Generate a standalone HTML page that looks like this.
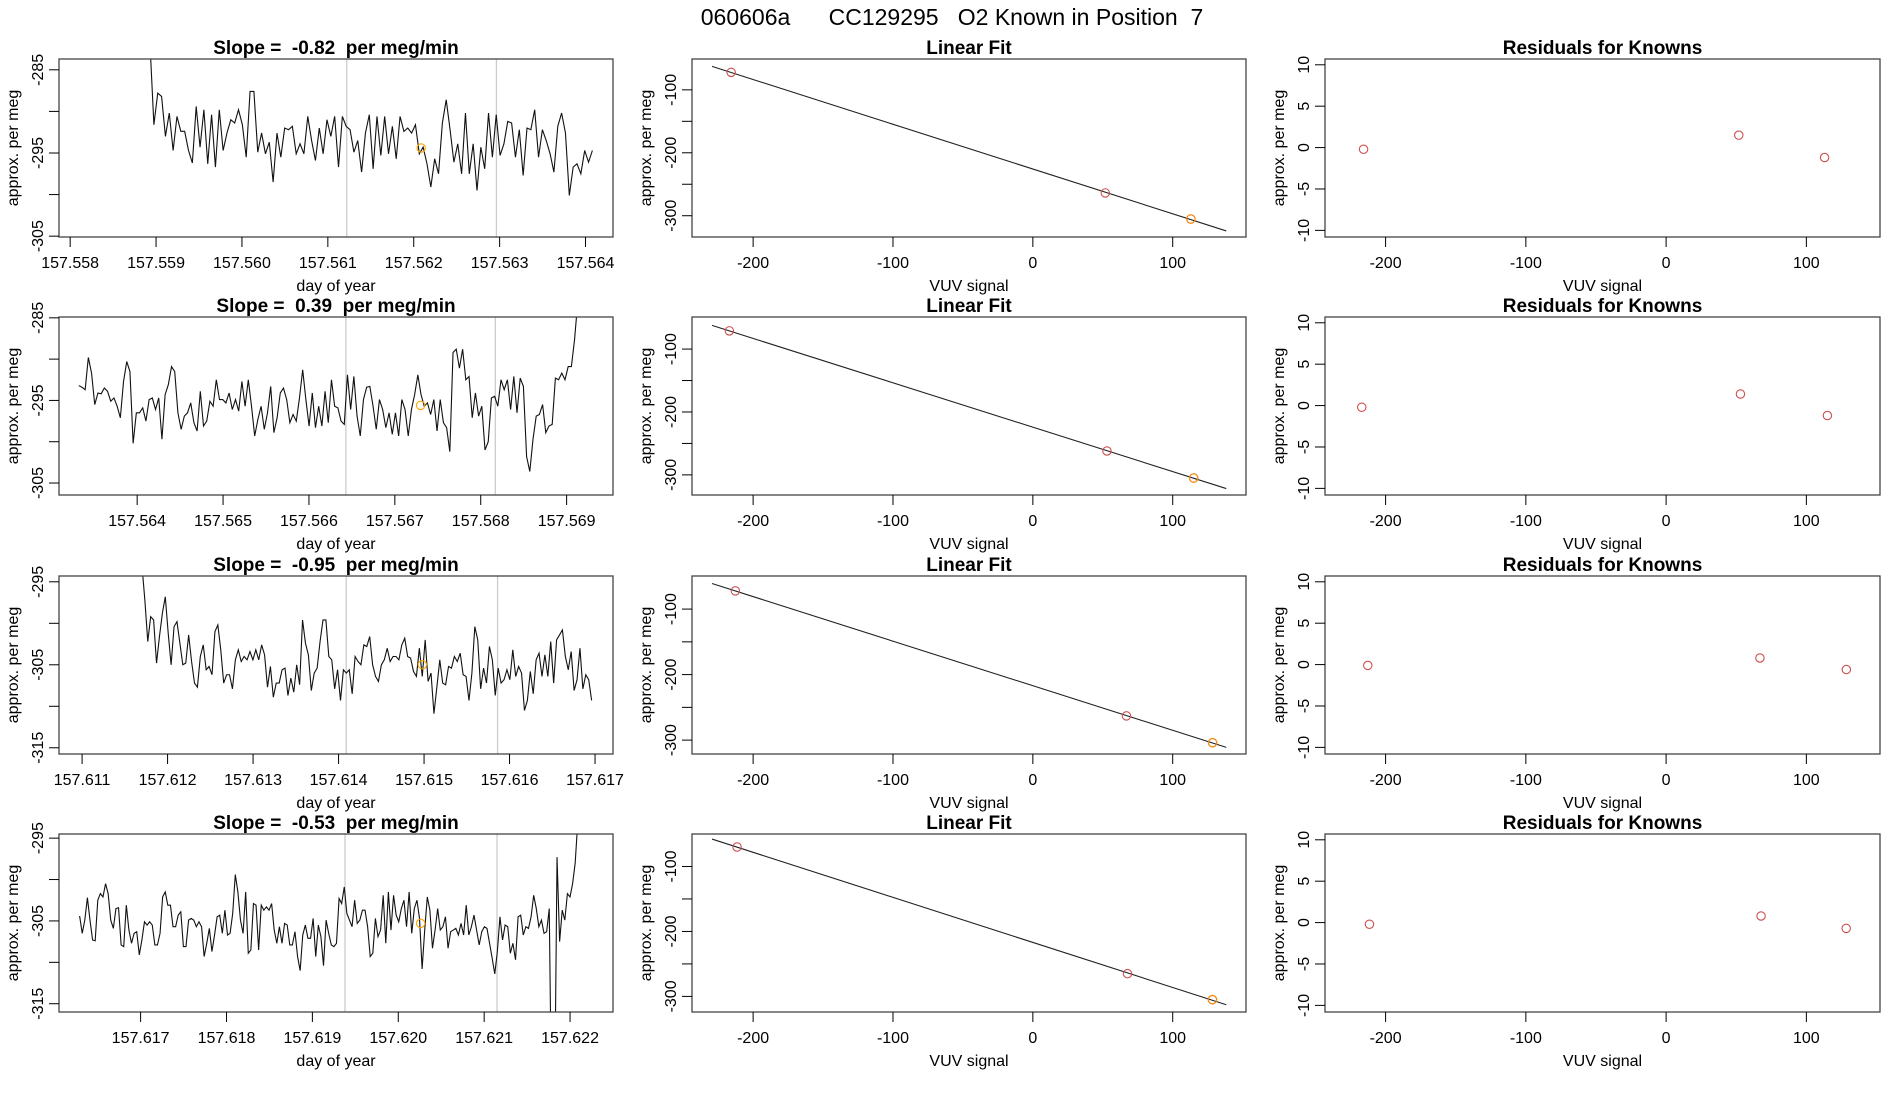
<!DOCTYPE html>
<html><head><meta charset="utf-8"><title>060606a CC129295</title>
<style>
html,body{margin:0;padding:0;background:#fff;}
svg{display:block;font-family:"Liberation Sans",Arial,sans-serif;}
text{white-space:pre;}
</style></head>
<body>
<svg id="chart" width="1900" height="1100" viewBox="0 0 1900 1100" xmlns="http://www.w3.org/2000/svg" xml:space="preserve">
<rect x="0" y="0" width="1900" height="1100" fill="#fff"/>
<text x="952" y="25" font-size="23" text-anchor="middle" xml:space="preserve">060606a      CC129295   O2 Known in Position  7</text>
</svg>
<script>
// ---------- data ----------
const ts1Values = [-282,-291.6,-287.8,-288.2,-293.0,-290.2,-294.7,-290.6,-292.4,-292.4,-294.7,-296.2,-289.4,-294.3,-289.8,-296.3,-290.4,-296.7,-289.8,-294.7,-292.6,-291.0,-291.4,-289.8,-291.6,-295.5,-287.6,-287.6,-294.9,-292.6,-295.1,-293.7,-298.5,-292.6,-295.5,-292.0,-292.2,-291.8,-295.1,-293.9,-295.1,-290.6,-293.5,-295.9,-292.0,-295.1,-291.0,-293.0,-290.6,-296.7,-290.6,-291.8,-292.2,-294.9,-293.5,-297.3,-292.6,-290.4,-296.9,-290.6,-295.3,-290.6,-295.1,-291.8,-295.7,-290.6,-292.4,-292.0,-292.6,-291.6,-295.1,-294.3,-296.3,-299.1,-295.7,-297.5,-291.4,-288.6,-292.2,-296.1,-293.9,-297.5,-290.2,-297.5,-293.9,-299.5,-294.3,-296.9,-290.2,-295.5,-290.4,-295.3,-293.9,-291.2,-291.4,-295.5,-292.2,-297.7,-292.0,-292.2,-289.8,-295.5,-292.2,-293.5,-295.1,-297.3,-291.8,-290.2,-292.6,-300.1,-296.7,-296.3,-297.5,-294.7,-296.1,-294.7];
const ts2Values = [-293.2,-293.4,-293.7,-289.8,-291.7,-295.5,-294.1,-294.2,-293.5,-293.9,-295.1,-294.7,-295.7,-297.1,-292.7,-290.3,-291.5,-300.2,-296.5,-296.5,-295.9,-297.5,-294.9,-294.7,-296.1,-294.7,-299.7,-294.3,-293.1,-290.9,-291.5,-296.5,-298.5,-296.9,-296.5,-295.3,-297.7,-298.7,-293.9,-298.1,-297.5,-295.1,-295.7,-292.5,-294.9,-294.9,-295.3,-294.1,-296.1,-294.9,-296.3,-292.7,-295.7,-292.5,-295.7,-299.3,-297.3,-295.7,-298.5,-296.5,-293.3,-298.9,-297.1,-294.1,-293.5,-294.9,-297.7,-296.7,-297.5,-294.7,-291.3,-294.9,-298.1,-294.1,-298.3,-295.7,-298.1,-293.9,-297.7,-292.5,-295.7,-295.9,-297.5,-297.9,-291.9,-296.1,-292.1,-296.9,-299.3,-294.9,-293.4,-293.3,-295.7,-298.5,-294.9,-296.1,-298.3,-296.5,-299.1,-296.5,-299.3,-294.9,-296.1,-299.3,-296.1,-294.3,-291.9,-294.3,-295.7,-295.3,-296.7,-294.9,-298.7,-294.9,-297.7,-298.3,-301.2,-289.2,-288.8,-291.1,-288.8,-292.5,-292.1,-297.1,-294.1,-296.9,-295.7,-301.0,-300.0,-294.7,-294.5,-295.7,-292.5,-293.7,-292.5,-296.1,-292.1,-296.5,-292.3,-293.3,-301.8,-303.6,-299.7,-296.9,-296.7,-295.5,-298.9,-298.1,-297.9,-292.3,-292.5,-291.7,-292.5,-290.9,-290.9,-287.6,-283];
const ts3Values = [-293,-297.2,-302.2,-299.2,-299.6,-304.8,-301.6,-298.8,-296.8,-301.2,-305.0,-300.4,-299.8,-302.4,-305.0,-304.8,-301.4,-304.6,-307.2,-307.7,-304.0,-302.6,-305.6,-305.2,-306.2,-301.0,-300.2,-303.2,-307.2,-306.2,-306.2,-307.9,-304.4,-303.2,-304.6,-304.0,-304.4,-303.4,-304.4,-303.2,-304.4,-302.6,-303.8,-307.7,-305.2,-308.9,-307.2,-307.2,-305.6,-305.4,-308.7,-306.6,-308.3,-305.0,-307.4,-299.6,-302.4,-303.8,-308.1,-306.0,-305.4,-302.2,-299.6,-299.6,-304.0,-304.4,-307.9,-305.6,-309.3,-305.6,-306.0,-305.6,-308.5,-304.0,-304.6,-305.0,-302.6,-302.8,-301.6,-305.0,-306.4,-307.0,-305.0,-304.4,-303.0,-304.6,-304.0,-304.0,-304.4,-302.6,-301.8,-304.0,-304.2,-305.8,-306.4,-303.0,-306.4,-302.0,-307.0,-306.0,-310.9,-307.7,-304.4,-307.2,-307.4,-305.2,-305.4,-304.0,-304.6,-303.6,-306.2,-306.4,-309.3,-306.0,-300.4,-302.0,-307.9,-305.4,-307.2,-302.8,-304.4,-308.7,-305.4,-307.2,-306.8,-305.6,-306.8,-303.2,-306.4,-305.2,-306.0,-310.5,-309.3,-305.8,-308.5,-304.4,-303.6,-306.4,-303.8,-306.4,-302.2,-307.2,-302.0,-301.4,-300.8,-304.0,-305.6,-303.4,-308.1,-306.8,-303.0,-307.9,-306.2,-306.8,-309.3];
const ts4Values = [-304.4,-306.5,-304.9,-302.2,-304.9,-307.3,-307.4,-302.5,-301.7,-302.1,-300.5,-301.7,-304.9,-305.9,-303.5,-303.4,-307.9,-308.1,-303.1,-306.1,-307.7,-306.5,-306.3,-309.1,-307.3,-305.1,-305.5,-305.1,-305.5,-307.9,-307.9,-306.5,-302.1,-301.5,-303.1,-303.1,-305.7,-305.7,-304.3,-303.9,-308.1,-308.1,-304.9,-304.7,-304.9,-305.7,-305.1,-305.7,-309.3,-307.7,-305.9,-308.7,-306.7,-304.5,-304.3,-306.5,-303.7,-306.7,-306.5,-304.1,-299.4,-301.5,-304.9,-306.5,-301.5,-308.9,-308.5,-302.9,-303.1,-308.5,-303.1,-303.7,-303.3,-303.7,-302.9,-306.1,-307.7,-305.7,-307.7,-305.3,-305.5,-307.9,-307.9,-306.3,-309.3,-311.0,-306.7,-305.5,-307.1,-307.1,-304.7,-309.3,-305.5,-306.9,-310.4,-304.9,-306.5,-307.9,-308.1,-307.7,-302.3,-302.9,-300.9,-304.1,-304.9,-305.7,-302.5,-305.3,-304.9,-303.7,-303.7,-305.7,-309.3,-308.9,-304.7,-306.9,-306.1,-301.9,-307.7,-301.5,-306.1,-301.9,-304.3,-305.1,-303.5,-302.5,-305.7,-301.5,-306.5,-303.5,-302.5,-304.7,-310.8,-306.1,-302.1,-303.7,-308.3,-306.1,-303.5,-306.1,-305.7,-304.5,-308.3,-306.3,-306.1,-305.9,-306.7,-305.3,-306.7,-303.1,-306.7,-305.7,-304.3,-306.1,-307.9,-306.3,-305.7,-305.9,-307.7,-309.5,-311.4,-308.7,-304.5,-307.3,-305.5,-305.7,-308.9,-307.7,-309.7,-304.5,-304.3,-306.7,-305.7,-305.9,-304.5,-301.9,-303.5,-305.7,-304.9,-306.5,-306.3,-303.5,-330,-330,-297.3,-307.5,-303.7,-304.9,-301.7,-302.1,-300.5,-298.0,-293];
const tsTimeSpans = [[157.55893,157.56408],[157.56332,157.56913],[157.6117,157.61696],[157.61629,157.62209]];
const tsXDomains = [[157.55787,157.56432],[157.56309,157.56954],[157.61073,157.61721],[157.61605,157.6225]];
const tsYDomains = [[-305.1,-283.7],[-306.45,-284.9],[-315.75,-294.3],[-316,-294.5]];
const tsXTicks1 = [157.558,157.559,157.560,157.561,157.562,157.563,157.564];
const tsXTicks2 = [157.564,157.565,157.566,157.567,157.568,157.569];
const tsXTicks3 = [157.611,157.612,157.613,157.614,157.615,157.616,157.617];
const tsXTicks4 = [157.617,157.618,157.619,157.620,157.621,157.622];
const tsYTicksA = [-285,-290,-295,-300,-305];
const tsYLabelsA = [-285,-295,-305];
const tsYTicksB = [-295,-300,-305,-310,-315];
const tsYLabelsB = [-295,-305,-315];
const knownTimes = [157.562087,157.5673,157.61498,157.62026];
const knownValues = [-294.4,-295.6,-305.0,-305.3];
const greyLines = [[157.56122,157.562963],[157.56643,157.56817],[157.61409,157.61586],[157.61938,157.62115]];
const slopeTexts = ["-0.82","0.39","-0.95","-0.53"];

const fitSignal1 = [-215.7,51.8,113];
const fitValue1 = [-72.2,-263.8,-305.2];
const fitSignal2 = [-217,53,115];
const fitValue2 = [-71,-262,-305];
const fitSignal3 = [-212.7,66.9,128.5];
const fitValue3 = [-72.2,-263,-304];
const fitSignal4 = [-211.5,67.7,128.4];
const fitValue4 = [-70,-265,-305];
const fitYDomains = [[-333.8,-51],[-332,-49],[-321.2,-49.5],[-324,-50]];
const fitXDomain = [-243.7,152.4];
const fitLineX = [-229.4,138.3];
const fitXTicks = [-200,-100,0,100];
const fitYTicks = [-100,-150,-200,-250,-300];
const fitYLabels = [-100,-200,-300];

const resid1 = [-0.2,1.5,-1.2];
const resid2 = [-0.2,1.4,-1.2];
const resid3 = [-0.1,0.8,-0.6];
const resid4 = [-0.2,0.8,-0.7];
const residXDomain = [-243.2,152.5];
const residYDomain = [-10.8,10.7];
const residYTicks = [-10,-5,0,5,10];

// ---------- layout ----------
const NS = "http://www.w3.org/2000/svg";
const svg = document.getElementById('chart');
const COLX = [[59,613],[692,1246],[1325,1880]];
const ROWY = [59,317,576,834];
const H = 178;
function mk(tag, parent){ const e = document.createElementNS(NS, tag); parent.appendChild(e); return e; }
function lin(d0,d1,r0,r1){ return v => r0 + (v-d0)/(d1-d0)*(r1-r0); }

function axes(g, x0, x1, y0, y1, sx, sy, xt, xl, yt, yl, xtitle){
  const box = mk('rect', g);
  
  
  box.setAttribute('x',x0); box.setAttribute('y',y0); box.setAttribute('width',x1-x0); box.setAttribute('height',y1-y0);
  box.setAttribute('fill','none'); box.setAttribute('stroke','#444'); box.setAttribute('stroke-width','1.3');
  const xa = mk('g', g);
  
  
  const ya = mk('g', g);
  
  
  xt.forEach(v => {
    const x = sx(v);
    const t = mk('line', xa);
    
    
    t.setAttribute('x1',x); t.setAttribute('x2',x); t.setAttribute('y1',y1); t.setAttribute('y2',y1+10); t.setAttribute('stroke','#000');
  });
  xl.forEach(s => {
    const x = sx(parseFloat(s));
    const t = mk('text', xa);
    
    
    t.setAttribute('x',x); t.setAttribute('y',y1+31); t.setAttribute('font-size','16'); t.setAttribute('text-anchor','middle');
    t.textContent = s;
  });
  yt.forEach(v => {
    const y = sy(v);
    const t = mk('line', ya);
    
    
    t.setAttribute('x1',x0-10); t.setAttribute('x2',x0); t.setAttribute('y1',y); t.setAttribute('y2',y); t.setAttribute('stroke','#000');
  });
  yl.forEach(v => {
    const y = sy(v);
    const t = mk('text', ya);
    
    
    t.setAttribute('transform','translate('+(x0-16)+','+y+') rotate(-90)');
    t.setAttribute('font-size','16'); t.setAttribute('text-anchor','middle');
    t.textContent = String(v);
  });
  const yT = mk('text', g);
  
  
  yT.setAttribute('transform','translate('+(x0-41)+','+((y0+y1)/2)+') rotate(-90)');
  yT.setAttribute('font-size','16'); yT.setAttribute('text-anchor','middle');
  yT.textContent = 'approx. per meg';
  const xT = mk('text', g);
  
  
  xT.setAttribute('x',(x0+x1)/2); xT.setAttribute('y',y1+54); xT.setAttribute('font-size','16'); xT.setAttribute('text-anchor','middle');
  xT.textContent = xtitle;
}
function title(g, x0, x1, y0, s){
  const t = mk('text', g);
  
  
  t.setAttribute('x',(x0+x1)/2); t.setAttribute('y',y0-5); t.setAttribute('font-size','19'); t.setAttribute('font-weight','bold'); t.setAttribute('text-anchor','middle');
  t.setAttribute('xml:space','preserve');
  t.textContent = s;
}
function clip(id, x0, x1, y0, y1){
  const cp = mk('clipPath', svg);
  cp.setAttribute('id', id);
  const r = mk('rect', cp);
  r.setAttribute('x',x0); r.setAttribute('y',y0); r.setAttribute('width',x1-x0); r.setAttribute('height',y1-y0);
}
function circ(g, x, y, color){
  const c = mk('circle', g);
  
  
  c.setAttribute('cx',x); c.setAttribute('cy',y); c.setAttribute('r','4.2');
  c.setAttribute('fill','none'); c.setAttribute('stroke',color); c.setAttribute('stroke-width','1.1');
  return c;
}

const tsSeries = [ts1Values, ts2Values, ts3Values, ts4Values];
const tsXTicks = [tsXTicks1, tsXTicks2, tsXTicks3, tsXTicks4];
const fitSignals = [fitSignal1, fitSignal2, fitSignal3, fitSignal4];
const fitValues = [fitValue1, fitValue2, fitValue3, fitValue4];
const resids = [resid1, resid2, resid3, resid4];

for (let r = 0; r < 4; r++){
  const y0 = ROWY[r], y1 = y0 + H;
  {
    const [x0,x1] = COLX[0];
    const g = mk('g', svg);
    
    
    const sx = lin(tsXDomains[r][0], tsXDomains[r][1], x0, x1);
    const sy = lin(tsYDomains[r][0], tsYDomains[r][1], y1, y0);
    const cid = 'clipts'+r;
    clip(cid, x0, x1, y0, y1);
    greyLines[r].forEach(t => {
      const l = mk('line', g);
      
      
      l.setAttribute('x1',sx(t)); l.setAttribute('x2',sx(t)); l.setAttribute('y1',y0); l.setAttribute('y2',y1);
      l.setAttribute('stroke','#cccccc'); l.setAttribute('stroke-width','1.3');
    });
    const vals = tsSeries[r], n = vals.length, [t0,t1] = tsTimeSpans[r];
    let d = '';
    vals.forEach((v,i) => { const t = t0 + i*(t1-t0)/(n-1); d += (i?'L':'M') + sx(t).toFixed(2) + ',' + sy(v).toFixed(2); });
    const p = mk('path', g);
    
    
    p.setAttribute('d', d); p.setAttribute('fill','none'); p.setAttribute('stroke','#111'); p.setAttribute('stroke-width','1.1');
    p.setAttribute('clip-path','url(#'+cid+')');
    const kc = circ(g, sx(knownTimes[r]), sy(knownValues[r]), '#ffa500');
    
    const tk = r < 2 ? tsYTicksA : tsYTicksB;
    const tl = r < 2 ? tsYLabelsA : tsYLabelsB;
    axes(g, x0, x1, y0, y1, sx, sy, tsXTicks[r], tsXTicks[r].map(v => v.toFixed(3)), tk, tl, 'day of year');
    title(g, x0, x1, y0, 'Slope =  ' + slopeTexts[r] + '  per meg/min');
  }
  {
    const [x0,x1] = COLX[1];
    const g = mk('g', svg);
    
    
    const sx = lin(fitXDomain[0], fitXDomain[1], x0, x1);
    const sy = lin(fitYDomains[r][0], fitYDomains[r][1], y1, y0);
    const xs = fitSignals[r], ys = fitValues[r], n = xs.length;
    const mx = xs.reduce((a,b)=>a+b,0)/n, my = ys.reduce((a,b)=>a+b,0)/n;
    let sxy = 0, sxx = 0;
    for (let i=0;i<n;i++){ sxy += (xs[i]-mx)*(ys[i]-my); sxx += (xs[i]-mx)*(xs[i]-mx); }
    const b = sxy/sxx, a = my - b*mx;
    const l = mk('line', g);
    
    
    l.setAttribute('x1',sx(fitLineX[0])); l.setAttribute('y1',sy(a+b*fitLineX[0]));
    l.setAttribute('x2',sx(fitLineX[1])); l.setAttribute('y2',sy(a+b*fitLineX[1]));
    l.setAttribute('stroke','#222'); l.setAttribute('stroke-width','1.1');
    xs.forEach((x,i) => { circ(g, sx(x), sy(ys[i]), '#cd4f4f'); });
    const kc = circ(g, sx(xs[n-1]), sy(ys[n-1]), '#ff8c00');
    
    axes(g, x0, x1, y0, y1, sx, sy, fitXTicks, fitXTicks.map(String), fitYTicks, fitYLabels, 'VUV signal');
    title(g, x0, x1, y0, 'Linear Fit');
  }
  {
    const [x0,x1] = COLX[2];
    const g = mk('g', svg);
    
    
    const sx = lin(residXDomain[0], residXDomain[1], x0, x1);
    const sy = lin(residYDomain[0], residYDomain[1], y1, y0);
    const xs = fitSignals[r], rs = resids[r];
    xs.forEach((x,i) => { circ(g, sx(x), sy(rs[i]), '#cd4f4f'); });
    axes(g, x0, x1, y0, y1, sx, sy, fitXTicks, fitXTicks.map(String), residYTicks, residYTicks, 'VUV signal');
    title(g, x0, x1, y0, 'Residuals for Knowns');
  }
}
</script>
</body></html>
